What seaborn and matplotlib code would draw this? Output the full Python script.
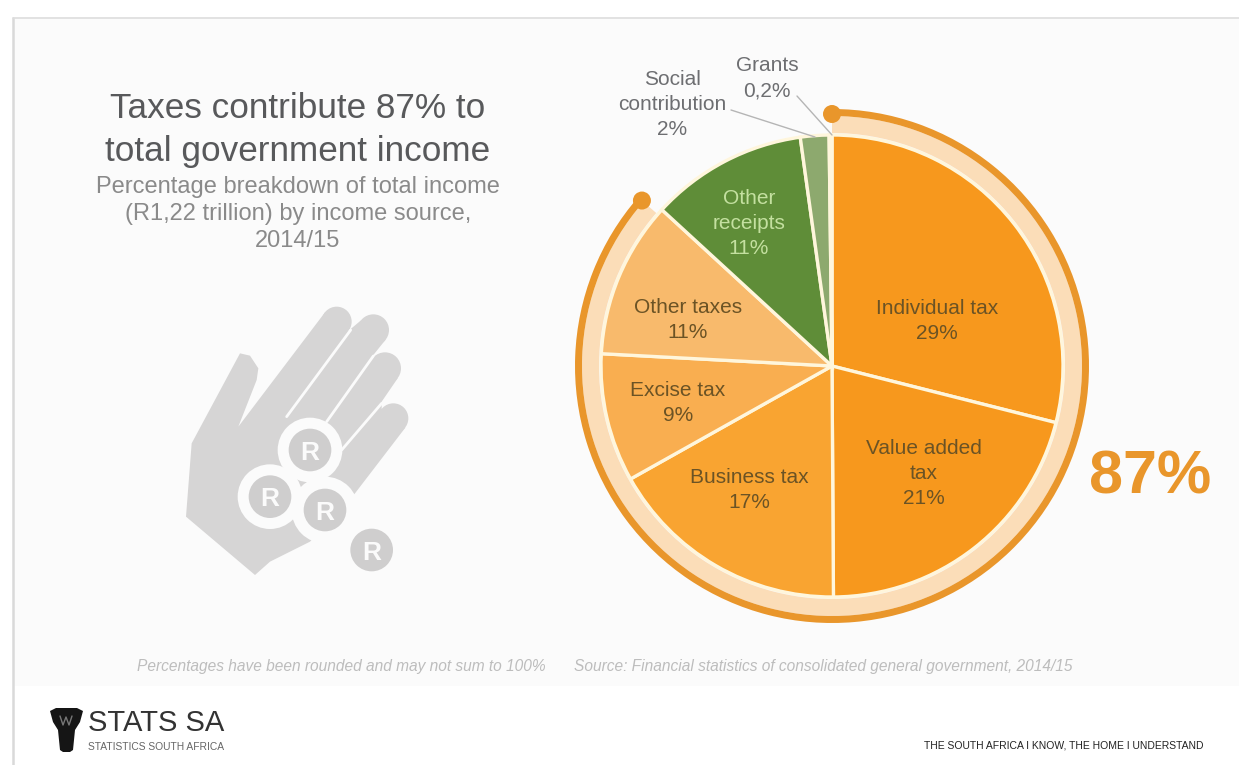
"""Taxes share of SA government income, pie with ring and hand icon."""

import matplotlib.pyplot as plt
import numpy as np
import seaborn as sns
from matplotlib.patches import Circle, Polygon, Rectangle

W, H = 1239, 765

sources = ["Individual tax", "Value added\ntax", "Business tax", "Excise tax",
           "Other taxes", "Other\nreceipts", "Social\ncontribution", "Grants"]
shares = [29, 21, 17, 9, 11, 11, 2, 0.2]
share_labels = ["29%", "21%", "17%", "9%", "11%", "11%", "2%", "0,2%"]
slice_colors = ["#F7981D", "#F7981D", "#F9A431", "#F9AE50", "#F8BA6C",
                "#5F8D38", "#8DA96E", "#F7DFA8"]
label_colors = ["#6B5325", "#6B5325", "#6B5325", "#6B5325", "#6B5325",
                "#C4E0A0", "#6D6E71", "#6D6E71"]
label_pos = [(937, 321), (924, 473), (749, 490), (678, 403),
             (688, 320), (749, 223), (672, 104), (767, 78)]
# the ring in the picture stops a little short of the 87% boundary
ring_share = 86.4

sns.set_theme(style="white", rc={"font.family": ["Liberation Sans", "DejaVu Sans"]})
palette = sns.color_palette(slice_colors)


def flip(py):
    return H - py


fig = plt.figure(figsize=(W / 100, H / 100), dpi=100, facecolor="white")
ax = fig.add_axes([0, 0, 1, 1])

# panel behind the chart, grey rule on the left and top only
BG = "#FBFBFB"
ax.add_patch(Rectangle((13, flip(686)), W, 668, fc=BG, lw=0, zorder=0))
ax.plot([13, 13], [0, flip(18)], color="#D9D9D9", lw=1.8, zorder=0.5)
ax.plot([13, W], [flip(18), flip(18)], color="#DDDDDD", lw=1.2, zorder=0.5)

# pie
cx, cy, r = 832, flip(366), 231
ax.pie(shares, colors=palette, startangle=90, counterclock=False, center=(cx, cy), radius=r,
       wedgeprops={"edgecolor": "#FFF6DC", "linewidth": 2.4})

# ring round the tax slices
ring = [ring_share, 100 - ring_share]
ax.pie(ring, colors=["#FBDDB8", "none"], startangle=90, counterclock=False,
       center=(cx, cy), radius=250, wedgeprops={"width": 17, "linewidth": 0})
ax.pie(ring, colors=["#E9962B", "none"], startangle=90, counterclock=False,
       center=(cx, cy), radius=257, wedgeprops={"width": 7, "linewidth": 0})
for pct in (0, ring_share):
    a = np.deg2rad(90 - pct * 3.6)
    ax.add_patch(Circle((cx + 252 * np.cos(a), cy + 252 * np.sin(a)), 9, fc="#E9962B", lw=0, zorder=3))

# leader lines for the two small slices
ax.plot([731, 815], [flip(110), flip(137)], color="#B5B5B5", lw=1, zorder=4)
ax.plot([797, 832], [flip(96), flip(135)], color="#B5B5B5", lw=1, zorder=4)

for name, pct, col, (x, y) in zip(sources, share_labels, label_colors, label_pos):
    ax.text(x, flip(y), f"{name}\n{pct}", color=col, fontsize=15, ha="center", va="center",
            linespacing=1.4, zorder=5)

ax.text(1150, flip(478), "87%", color="#E9962B", fontsize=44, fontweight="bold", ha="center", va="center")

# headings
ax.text(298, flip(130), "Taxes contribute 87% to\ntotal government income", color="#58595B",
        fontsize=25.3, ha="center", va="center", linespacing=1.35)
ax.text(298, flip(214), "Percentage breakdown of total income\n(R1,22 trillion) by income source,\n2014/15",
        color="#8A8A8A", fontsize=17, ha="center", va="center", linespacing=1.32)


# hand icon, traced in a 3x crop whose corner sits at (160, 290)
def hx(x):
    return 160 + x / 3


def hy(y):
    return flip(290 + y / 3)


GREY = "#D6D5D5"
palm = [(240, 190), (270, 197), (295, 235), (290, 270), (235, 410), (495, 67), (565, 123),
        (603, 91), (677, 149), (640, 195), (637, 205), (713, 265), (665, 335), (665, 357),
        (736, 413), (585, 610), (450, 755), (330, 815), (285, 855), (78, 680), (95, 460)]
ax.add_patch(Polygon([(hx(x), hy(y)) for x, y in palm], fc=GREY, lw=0, zorder=1))
for x, y, tip in [(530, 95, 45), (640, 120, 47), (675, 235, 48), (700, 385, 45)]:
    ax.add_patch(Circle((hx(x), hy(y)), tip / 3, fc=GREY, lw=0, zorder=1))
gaps = [((380, 380), (572, 120)), ((500, 395), (640, 198)), ((545, 480), (665, 340))]
for (x0, y0), (x1, y1) in gaps:
    ax.plot([hx(x0), hx(x1)], [hy(y0), hy(y1)], color=BG, lw=2, zorder=1.5)
coins = [(450, 480, 97), (330, 620, 97), (495, 660, 100), (635, 780, 0)]
for x, y, halo in coins:
    if halo:
        ax.add_patch(Circle((hx(x), hy(y)), halo / 3, fc=BG, lw=0, zorder=2))
for x, y, halo in coins:
    ax.add_patch(Circle((hx(x), hy(y)), 64 / 3, fc="#CFCECE", lw=0, zorder=3))
    ax.text(hx(x), hy(y), "R", color=BG, fontsize=19, fontweight="bold", ha="center", va="center_baseline", zorder=4)

# footnotes
ax.text(137, flip(667), "Percentages have been rounded and may not sum to 100%", color="#BDBDBD",
        fontsize=11.2, style="italic", va="center")
ax.text(574, flip(667), "Source: Financial statistics of consolidated general government, 2014/15",
        color="#BDBDBD", fontsize=11.2, style="italic", va="center")

# logo strip
drum = [(50, 711), (56, 708), (77, 708), (83, 711), (80, 722), (75, 730), (73, 750), (70, 752),
        (63, 752), (60, 750), (58, 730), (53, 722)]
ax.add_patch(Polygon([(x, flip(y)) for x, y in drum], fc="#151515", lw=0, zorder=2))
ax.plot([60, 63, 66, 69, 72], [flip(716), flip(725), flip(717), flip(725), flip(716)], color="#777777", lw=1, zorder=3)
ax.text(88, flip(723), "STATS SA", color="#333333", fontsize=21, va="center")
ax.text(88, flip(747), "STATISTICS SOUTH AFRICA", color="#666666", fontsize=7.4, va="center")
ax.text(1203, flip(745), "THE SOUTH AFRICA I KNOW, THE HOME I UNDERSTAND", color="#222222",
        fontsize=7.5, ha="right", va="center")

ax.set_xlim(0, W)
ax.set_ylim(0, H)
ax.set_aspect("auto")
ax.axis("off")
fig.savefig("out.png", dpi=100, facecolor="white")
plt.close(fig)
